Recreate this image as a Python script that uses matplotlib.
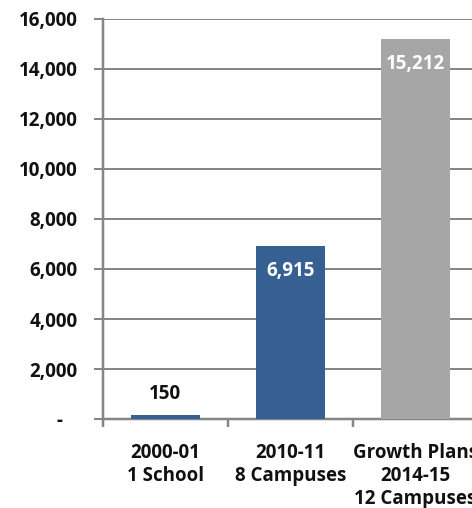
import matplotlib
matplotlib.use("Agg")
import matplotlib.pyplot as plt
from matplotlib.ticker import FuncFormatter

categories = ["2000-01\n1 School", "2010-11\n8 Campuses", "Growth Plans\n2014-15\n12 Campuses"]
values = [150, 6915, 15212]
bar_colors = ["#376092", "#376092", "#A6A6A6"]
label_colors = ["#111111", "white", "white"]
label_inside = [False, True, True]
yticks = [0, 2000, 4000, 6000, 8000, 10000, 12000, 14000, 16000]

plt.rcParams['font.family'] = ['Open Sans', 'DejaVu Sans']
plt.rcParams['font.weight'] = 'bold'

W, H = 472, 508
fig = plt.figure(figsize=(W / 100, H / 100), dpi=100)
px = 72 / 100  # points per pixel
left, right, top, bottom = 102.7, 478, 19, 419
ax = fig.add_axes([left / W, 1 - bottom / H, (right - left) / W, (bottom - top) / H])

grid_c = "#868686"
x = list(range(len(categories)))
bars = ax.bar(x, values, width=0.55, color=bar_colors, zorder=3)

ax.set_xlim(-0.5, 2.5)
ax.set_ylim(0, 16000)
ax.set_yticks(yticks)
ax.yaxis.set_major_formatter(FuncFormatter(lambda v, p: "-   " if v == 0 else f"{int(v):,}"))
ax.grid(axis='y', color=grid_c, linewidth=2 * px, zorder=0)
ax.set_axisbelow(True)

for s in ['top', 'right']:
    ax.spines[s].set_visible(False)
for s in ['left', 'bottom']:
    ax.spines[s].set_color(grid_c)
    ax.spines[s].set_linewidth(2.5 * px)

fs = 13.5
ax.tick_params(axis='y', length=9 * px, width=2 * px, color=grid_c, labelsize=fs, pad=16 * px, labelcolor="#111111")
ax.set_xticks([-0.5, 0.5, 1.5, 2.5])
ax.set_xticklabels([])
ax.tick_params(axis='x', which='major', length=8 * px, width=2.5 * px, color=grid_c)
ax.set_xticks(x, minor=True)
ax.set_xticklabels(categories, minor=True, fontsize=fs, linespacing=1.2, color="#111111", fontweight='bold')
ax.tick_params(axis='x', which='minor', length=0, pad=24 * px)

for xi, v, c, inside in zip(x, values, label_colors, label_inside):
    if inside:
        ax.annotate(f"{v:,}", (xi, v), xytext=(0, -25), textcoords='offset pixels',
                    ha='center', va='center', color=c, fontsize=fs, fontweight='bold', zorder=4)
    else:
        ax.annotate(f"{v:,}", (xi, v), xytext=(0, 21), textcoords='offset pixels',
                    ha='center', va='center', color=c, fontsize=fs, fontweight='bold', zorder=4)

fig.savefig("out.png", dpi=100)
